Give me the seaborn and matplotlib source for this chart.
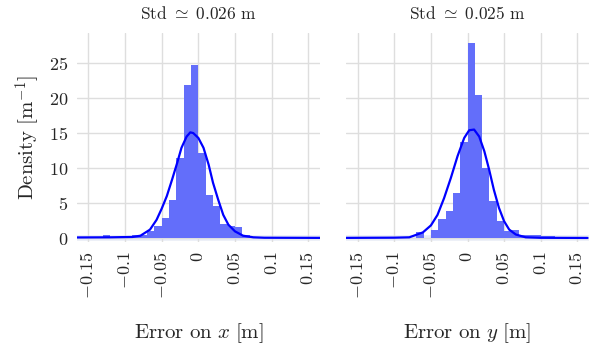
import pandas as pd
import seaborn as sns
import matplotlib.pyplot as plt

# Histogram bins (left edge of each 0.01 m bin) and densities
x_bin_left = [-0.13, -0.09, -0.08, -0.07, -0.06, -0.05, -0.04, -0.03, -0.02, -0.01,
              0.00, 0.01, 0.02, 0.03, 0.04, 0.05, 0.06, 0.07]
x_density = [0.5, 0.5, 0.5, 1.0, 1.67, 2.9, 5.5, 11.5, 21.9, 24.7,
             12.2, 6.2, 4.6, 2.0, 1.67, 1.6, 0.5, 0.1]

y_bin_left = [-0.07, -0.05, -0.04, -0.03, -0.02, -0.01, 0.00, 0.01, 0.02, 0.03,
              0.04, 0.05, 0.06, 0.07, 0.08, 0.09, 0.10, 0.11, 0.14]
y_density = [0.9, 1.2, 2.76, 3.9, 6.5, 13.7, 27.8, 20.5, 10.05, 5.3,
             2.5, 0.95, 1.2, 0.5, 0.5, 0.5, 0.3, 0.3, 0.15]

# Smooth density curves
x_kde_x = [-0.166, -0.12, -0.09, -0.079, -0.066, -0.057, -0.05, -0.043, -0.036, -0.029,
           -0.023, -0.016, -0.011, -0.007, 0.0, 0.007, 0.014, 0.020, 0.027, 0.034,
           0.041, 0.05, 0.061, 0.075, 0.09, 0.166]
x_kde_y = [0.08, 0.1, 0.15, 0.33, 1.2, 2.6, 4.2, 6.0, 8.3, 10.7,
           12.9, 14.5, 15.1, 15.0, 14.3, 12.9, 10.5, 7.9, 5.5, 3.3,
           1.9, 0.95, 0.33, 0.1, 0.04, 0.02]

y_kde_x = [-0.166, -0.1, -0.0795, -0.061, -0.05, -0.041, -0.032, -0.0227, -0.0136, -0.0045,
           0.0023, 0.009, 0.016, 0.023, 0.0295, 0.036, 0.043, 0.05, 0.057, 0.066,
           0.0795, 0.1, 0.164]
y_kde_y = [0.02, 0.05, 0.1, 0.8, 1.8, 3.3, 5.7, 8.6, 11.7, 14.3,
           15.4, 15.5, 14.5, 12.4, 9.8, 6.9, 4.3, 2.4, 1.2, 0.5,
           0.1, 0.03, 0.01]

titles = [r'$\mathrm{Std}\ \simeq\ 0.026\ \mathrm{m}$', r'$\mathrm{Std}\ \simeq\ 0.025\ \mathrm{m}$']
xlabels = [r'$\mathrm{Error\ on}\ x\ [\mathrm{m}]$', r'$\mathrm{Error\ on}\ y\ [\mathrm{m}]$']
ylabel = r'$\mathrm{Density}\ [\mathrm{m}^{-1}]$'
xtick_vals = [-0.15, -0.1, -0.05, 0, 0.05, 0.1, 0.15]
xtick_text = [r'$-0.15$', r'$-0.1$', r'$-0.05$', r'$0$', r'$0.05$', r'$0.1$', r'$0.15$']
ytick_vals = [0, 5, 10, 15, 20, 25]

sns.set_style('white')
plt.rcParams['mathtext.fontset'] = 'cm'
plt.rcParams['font.family'] = ['DejaVu Serif']

fig = plt.figure(figsize=(5.89, 3.47), dpi=100)
ax1 = fig.add_axes([76.7 / 589, 1 - 242 / 347, 243.3 / 589, 209 / 347])
ax2 = fig.add_axes([346 / 589, 1 - 242 / 347, 243 / 589, 209 / 347], sharey=ax1)

panels = [(ax1, x_bin_left, x_density, x_kde_x, x_kde_y),
          (ax2, y_bin_left, y_density, y_kde_x, y_kde_y)]

for i, (ax, left, dens, kx, ky) in enumerate(panels):
    ax.axhline(0, color='#e8ecf6', lw=4, zorder=0.5)
    df = pd.DataFrame({'err': [v + 0.005 for v in left], 'dens': dens})
    sns.histplot(data=df, x='err', weights='dens', binwidth=0.01, binrange=(-0.17, 0.17),
                 ax=ax, color='#636efa', alpha=1, linewidth=0, zorder=2)
    sns.lineplot(x=kx, y=ky, ax=ax, color='#0000ff', lw=1.6, zorder=3)

    ax.set_xlim(-0.166, 0.166)
    ax.set_ylim(-0.57, 29.3)
    ax.set_xticks(xtick_vals)
    ax.set_xticklabels(xtick_text, rotation=90, fontsize=13)
    ax.set_yticks(ytick_vals)
    ax.grid(True, color='#dedede', lw=1)
    ax.set_axisbelow(True)
    for s in ax.spines.values():
        s.set_visible(False)
    ax.tick_params(axis='both', length=4, width=1, color='#dddddd', pad=3)
    ax.tick_params(axis='y', pad=2)

    ax.set_xlabel(xlabels[i], fontsize=15)
    ax.xaxis.set_label_coords(0.5, -0.435)
    ax.xaxis.label.set_va('center')
    ax.text(0.5, 1.09, titles[i], transform=ax.transAxes, ha='center', va='center', fontsize=12.5)

ax1.set_yticklabels([r'$%d$' % v for v in ytick_vals], fontsize=13)
ax1.set_ylabel(ylabel, fontsize=15)
ax1.yaxis.set_label_coords(-0.204, 0.5)
ax1.yaxis.label.set_va('center')
ax2.set_ylabel('')
plt.setp(ax2.get_yticklabels(), visible=False)

fig.savefig('out.png', dpi=100)
